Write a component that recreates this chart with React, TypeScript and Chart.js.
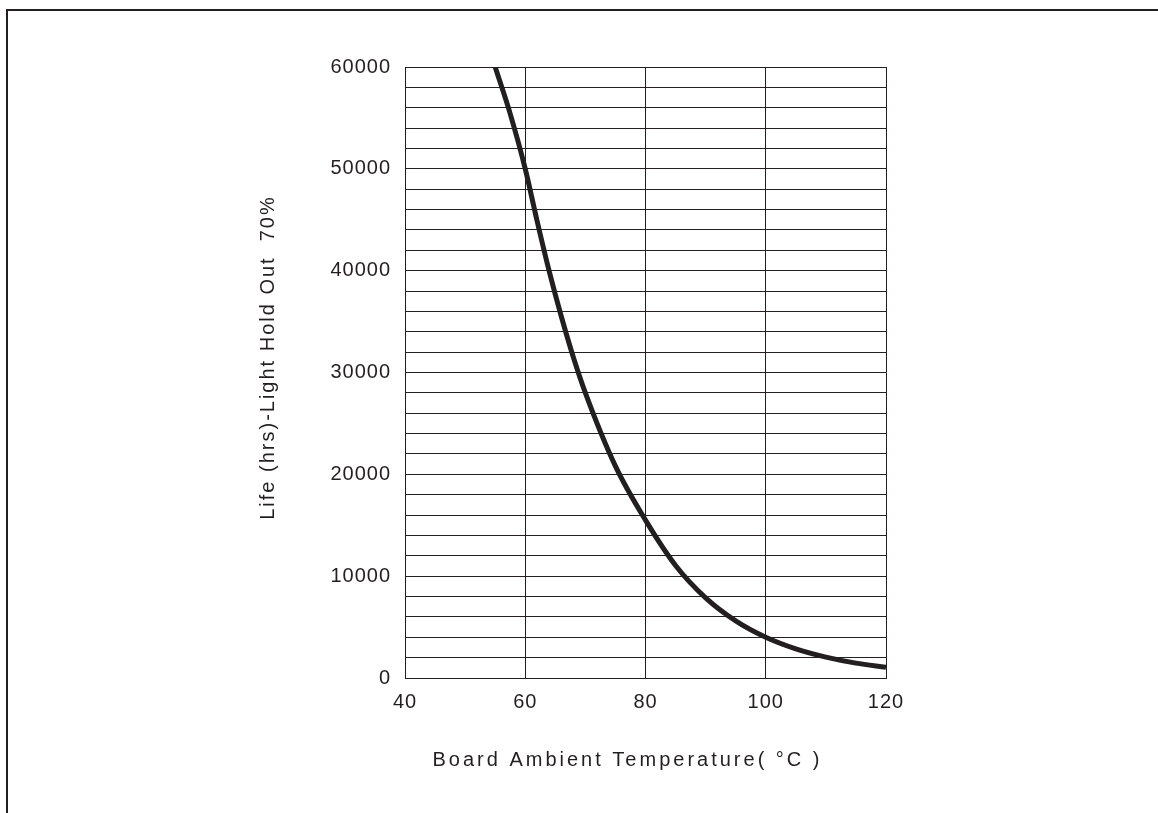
import React, { useEffect, useRef } from 'react';
import { Chart, registerables } from 'chart.js';

Chart.register(...registerables);

// ---- data ----
const temperatures = [55, 57.5, 60, 62, 64, 66, 68, 70, 75, 80, 85, 90, 95, 100, 105, 110, 115, 120];
const lifeHours = [60000, 55400, 50000, 44800, 39900, 35500, 31500, 28000, 20800, 15500, 11050, 7870, 5610, 4000, 2860, 2050, 1460, 1050];
const yLabelValues = [0, 10000, 20000, 30000, 40000, 50000, 60000];
const xTickValues = [40, 60, 80, 100, 120];
const yGridStep = 2000;
const xTitle = 'Board Ambient Temperature( °C )';
const yTitle = 'Life (hrs)-Light Hold Out  70%';

const INK = '#231f20';
const FONT_FAMILY = '"Liberation Sans", Arial, Helvetica, sans-serif';

function patchScale(scale: any, titleSpacing: string, dx: number, dy: number, tickSpacing: string) {
  if (!scale || scale.__patched) return;
  scale.__patched = true;
  const origTitle = scale.drawTitle;
  scale.drawTitle = function (...args: any[]) {
    const ctx = this.ctx;
    ctx.save();
    ctx.letterSpacing = titleSpacing;
    ctx.translate(dx, dy);
    origTitle.apply(this, args);
    ctx.restore();
  };
  const origLabels = scale.drawLabels;
  scale.drawLabels = function (...args: any[]) {
    const ctx = this.ctx;
    ctx.save();
    ctx.letterSpacing = tickSpacing;
    origLabels.apply(this, args);
    ctx.restore();
  };
}

const textStylePlugin = {
  id: 'textStyle',
  beforeDraw(chart: any) {
    patchScale(chart.scales.x, '3px', -18, 0, '1px');
    patchScale(chart.scales.y, '2px', 0, -15, '1px');
  },
};

export default function App() {
  const canvasRef = useRef<HTMLCanvasElement | null>(null);

  useEffect(() => {
    const canvas = canvasRef.current;
    if (!canvas) return;
    const font = { family: FONT_FAMILY, size: 20, lineHeight: 1.2 };
    const chart = new Chart(canvas, {
      type: 'line',
      data: {
        datasets: [
          {
            data: temperatures.map((t, i) => ({ x: t, y: lifeHours[i] })),
            borderColor: INK,
            borderWidth: 5,
            pointRadius: 0,
            fill: false,
            cubicInterpolationMode: 'monotone',
          },
        ],
      },
      options: {
        responsive: false,
        animation: false,
        devicePixelRatio: 1,
        layout: { padding: { left: 0, top: 67, right: 272, bottom: 0 } },
        plugins: {
          legend: { display: false },
          tooltip: { enabled: false },
        },
        scales: {
          x: {
            type: 'linear',
            min: xTickValues[0],
            max: xTickValues[xTickValues.length - 1],
            afterBuildTicks: (s: any) => {
              s.ticks = xTickValues.map((v) => ({ value: v }));
            },
            afterFit: (s: any) => {
              s.height = 135;
            },
            grid: { color: INK, lineWidth: 1, drawTicks: false },
            border: { color: INK, width: 1 },
            ticks: {
              padding: 12,
              font,
              color: INK,
              maxRotation: 0,
              autoSkip: false,
              callback: (v: any) => String(v),
            },
            title: {
              display: true,
              text: xTitle,
              font,
              color: INK,
              padding: { top: 0, bottom: 41 },
            },
          },
          y: {
            type: 'linear',
            min: 0,
            max: yLabelValues[yLabelValues.length - 1],
            afterBuildTicks: (s: any) => {
              const ticks = [];
              for (let v = 0; v <= yLabelValues[yLabelValues.length - 1]; v += yGridStep) ticks.push({ value: v });
              s.ticks = ticks;
            },
            afterFit: (s: any) => {
              s.width = 405;
            },
            grid: { color: INK, lineWidth: 1, drawTicks: false },
            border: { color: INK, width: 1 },
            ticks: {
              padding: 14,
              font,
              color: INK,
              autoSkip: false,
              callback: (v: any) => (yLabelValues.includes(v) ? String(v) : ''),
            },
            title: {
              display: true,
              text: yTitle,
              font,
              color: INK,
              padding: { top: 256, bottom: 0 },
            },
          },
        },
      },
      plugins: [textStylePlugin],
    } as any);
    return () => chart.destroy();
  }, []);

  return (
    <div style={{ position: 'absolute', left: 0, top: 0, width: 1158, height: 813, background: '#fff', overflow: 'hidden' }}>
      <div
        style={{
          position: 'absolute',
          left: 6,
          top: 9,
          width: 1152,
          height: 804,
          boxSizing: 'border-box',
          borderTop: `2px solid ${INK}`,
          borderLeft: `2px solid ${INK}`,
        }}
      />
      <canvas ref={canvasRef} width={1158} height={813} style={{ position: 'absolute', left: 0, top: 0 }} />
    </div>
  );
}
